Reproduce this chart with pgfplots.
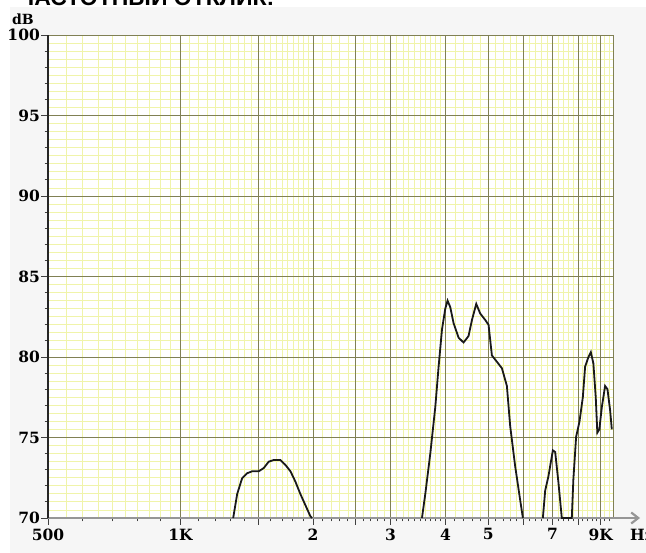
\documentclass[border=0pt]{standalone}
\usepackage{fontspec}
\setmainfont{DejaVu Serif}
\newfontfamily\titlefont{Liberation Sans}
\usepackage{pgfplots}
\pgfplotsset{compat=1.18}
\usetikzlibrary{arrows.meta}

\definecolor{majgrid}{RGB}{128,128,84}
\definecolor{fingrid}{RGB}{240,244,170}
\definecolor{panelbg}{RGB}{246,246,246}
\definecolor{xaxisgray}{RGB}{150,150,150}

\begin{document}
\begin{tikzpicture}
\fill[panelbg] (-38pt,-35pt) rectangle (598pt,511pt);

% fine yellow grid
\begin{axis}[
  at={(0,0)}, anchor=south west,
  scale only axis, width=565pt, height=483pt,
  xmode=log, xmin=500, xmax=9600, ymin=70, ymax=100,
  axis background/.style={fill=white},
  axis line style={draw=none},
  major tick length=0pt,
  xtick={550,600,650,700,750,800,850,900,950,1050,1100,1150,1200,1250,1300,1350,1400,1450,1550,1600,1650,1700,1750,1800,1850,1900,1950,2100,2200,2300,2400,2600,2700,2800,2900,3100,3200,3300,3400,3500,3600,3700,3800,3900,4200,4400,4600,4800,5200,5400,5600,5800,6200,6400,6600,6800,7200,7400,7600,7800,8200,8400,8600,8800,9200,9400},
  ytick={70.5,71,71.5,72,72.5,73,73.5,74,74.5,75.5,76,76.5,77,77.5,78,78.5,79,79.5,80.5,81,81.5,82,82.5,83,83.5,84,84.5,85.5,86,86.5,87,87.5,88,88.5,89,89.5,90.5,91,91.5,92,92.5,93,93.5,94,94.5,95.5,96,96.5,97,97.5,98,98.5,99,99.5},
  xticklabels={}, yticklabels={},
  xmajorgrids, ymajorgrids,
  major grid style={fingrid, line width=0.8pt},
]
\addplot[draw=none] coordinates {(600,80)};
\end{axis}

% main axis
\begin{axis}[
  at={(0,0)}, anchor=south west,
  scale only axis, width=565pt, height=483pt,
  xmode=log, xmin=500, xmax=9600, ymin=70, ymax=100,
  clip=false,
  axis line style={draw=none},
  xmajorgrids, ymajorgrids,
  major grid style={majgrid, line width=0.9pt},
  tick align=outside, xtick pos=bottom, ytick pos=left,
  major tick length=7pt, minor tick length=3.5pt,
  every tick/.style={black!75, line width=0.9pt},
  xtick={500,1000,1500,2000,2500,3000,4000,5000,6000,7000,8000,9000},
  xticklabels={500,1K,,2,,3,4,5,,7,,9K},
  minor xtick={600,700,800,900,1100,1200,1300,1400,1600,1700,1800,1900,2100,2200,2300,2400,2600,2700,2800,2900,3100,3200,3300,3400,3500,3600,3700,3800,3900,4200,4400,4600,4800,5200,5400,5600,5800,6200,6400,6600,6800,7200,7400,7600,7800,8200,8400,8600,8800,9200,9400},
  ytick={70,75,80,85,90,95,100},
  minor ytick={71,72,73,74,76,77,78,79,81,82,83,84,86,87,88,89,91,92,93,94,96,97,98,99},
  /pgf/number format/assume math mode=true,
  tick label style={font=\fontsize{15.5}{18}\selectfont\bfseries},
  yticklabel style={inner sep=1pt},
]
\draw[majgrid, line width=0.9pt] (axis cs:9600,70) -- (axis cs:9600,100);
\draw[xaxisgray, line width=2.2pt, -{Straight Barb[length=7pt,width=11pt]}]
  (rel axis cs:0,0) -- ([xshift=27pt]rel axis cs:1,0);
\draw[black!85, line width=1.3pt] (rel axis cs:0,0) -- (rel axis cs:0,1);

\addplot[black!90, line width=1.8pt] coordinates {
  (1317,70) (1345,71.5) (1380,72.47) (1417,72.78) (1454,72.9) (1505,72.9)
  (1545,73.1) (1586,73.5) (1628,73.6) (1686,73.6) (1730,73.3) (1777,72.9)
  (1824,72.25) (1871,71.5) (1921,70.8) (1973,70.1) (1990,70)
};
\addplot[black!90, line width=1.8pt] coordinates {
  (3535,70) (3597,71.5) (3692,74.0) (3790,76.9) (3856,79.4) (3925,81.7)
  (3993,83.0) (4041,83.5) (4098,83.1) (4170,82.1) (4281,81.2) (4393,80.9)
  (4509,81.3) (4591,82.3) (4695,83.3) (4793,82.7) (4921,82.3) (5007,82.0)
  (5095,80.1) (5231,79.7) (5370,79.3) (5511,78.2) (5607,75.7) (5756,73.2)
  (5909,71.1) (5992,70)
};
\addplot[black!90, line width=1.8pt] coordinates {
  (6652,70) (6733,71.7) (6850,72.6) (7009,74.2) (7095,74.1) (7217,72.2)
  (7345,70) (7739,70) (7803,72.4) (7917,75.05) (8055,75.98) (8198,77.5)
  (8297,79.4) (8443,80.0) (8549,80.3) (8663,79.6) (8771,77.5) (8844,75.3)
  (8937,75.5) (9056,76.9) (9211,78.2) (9325,78.0) (9455,76.7) (9540,75.5)
};
\end{axis}

\node[anchor=west, font=\fontsize{15.5}{18}\selectfont\bfseries, inner sep=0pt]
  at (582pt,-17pt) {Hz};
\node[font=\fontsize{14}{16}\selectfont\bfseries, inner sep=0pt]
  at (-25pt,499pt) {dB};
\node[anchor=base west, font={\titlefont\fontsize{23}{28}\selectfont\bfseries}, inner sep=0pt]
  at (-30pt,512pt) {ЧАСТОТНЫЙ ОТКЛИК:};

\pgfresetboundingbox
\path[use as bounding box] (-48pt,-35pt) rectangle (598pt,518pt);
\end{tikzpicture}
\end{document}
